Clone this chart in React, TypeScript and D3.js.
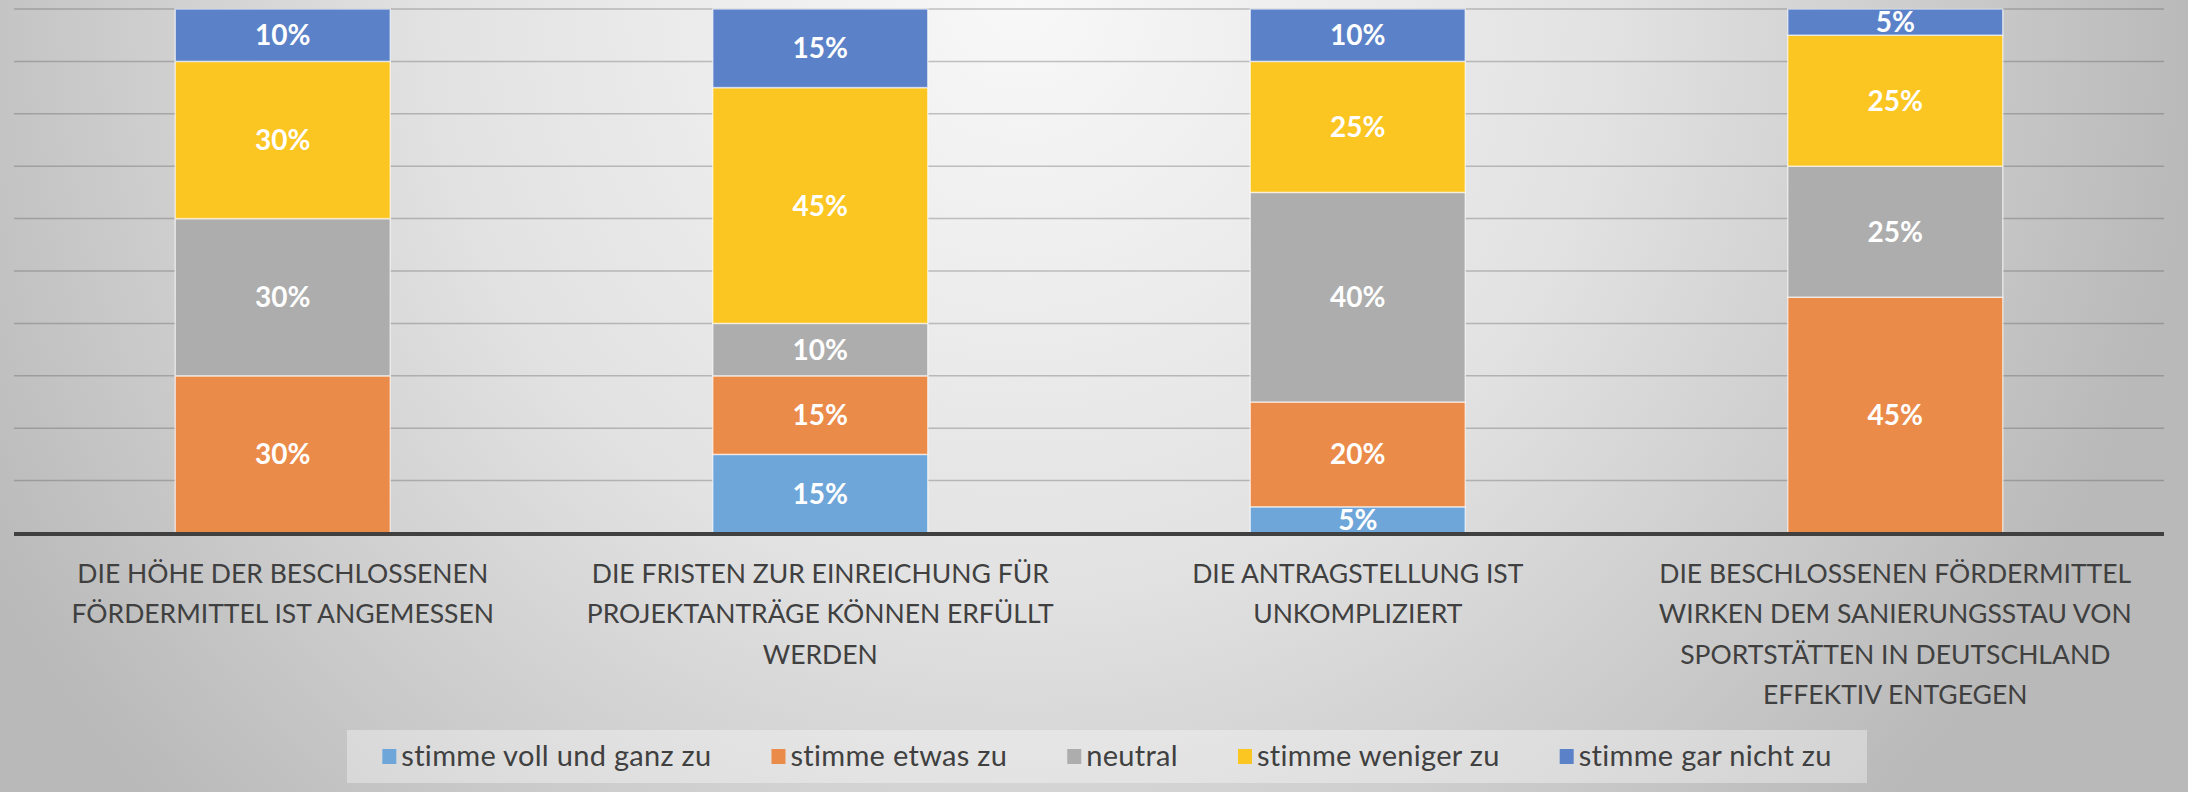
import { useEffect, useRef } from 'react';
import * as d3 from 'd3';

const categories: string[][] = [
  ['DIE HÖHE DER BESCHLOSSENEN', 'FÖRDERMITTEL IST ANGEMESSEN'],
  ['DIE FRISTEN ZUR EINREICHUNG FÜR', 'PROJEKTANTRÄGE KÖNNEN ERFÜLLT', 'WERDEN'],
  ['DIE ANTRAGSTELLUNG IST', 'UNKOMPLIZIERT'],
  ['DIE BESCHLOSSENEN FÖRDERMITTEL', 'WIRKEN DEM SANIERUNGSSTAU VON', 'SPORTSTÄTTEN IN DEUTSCHLAND', 'EFFEKTIV ENTGEGEN'],
];

const seriesNames = ['stimme voll und ganz zu', 'stimme etwas zu', 'neutral', 'stimme weniger zu', 'stimme gar nicht zu'];
const seriesColors = ['#6fa6d9', '#eb8b4a', '#adadad', '#fbc522', '#5b82c8'];

const vollUndGanz = [0, 15, 5, 0];
const etwas = [30, 15, 20, 45];
const neutral = [30, 10, 40, 25];
const weniger = [30, 45, 25, 25];
const garNicht = [10, 15, 10, 5];

const yTicks = [0, 10, 20, 30, 40, 50, 60, 70, 80, 90, 100];

const W = 2188;
const H = 792;
const FONT = 'Lato, "Open Sans", sans-serif';

export default function App() {
  const svgRef = useRef<SVGSVGElement>(null);

  useEffect(() => {
    document.body.style.margin = '0';
    if (!svgRef.current) return;
    const svg = d3.select(svgRef.current);
    svg.selectAll('*').remove();

    const left = 14, right = 2164, top = 9, bottom = 533;

    // background
    const defs = svg.append('defs');
    const grad = defs.append('radialGradient')
      .attr('id', 'bg')
      .attr('gradientUnits', 'userSpaceOnUse')
      .attr('cx', 1020).attr('cy', 0).attr('r', 1180);
    grad.append('stop').attr('offset', 0).attr('stop-color', '#f8f8f8');
    grad.append('stop').attr('offset', 0.5).attr('stop-color', '#e2e2e2');
    grad.append('stop').attr('offset', 1).attr('stop-color', '#b9b9b9');
    svg.append('rect').attr('width', W).attr('height', H).attr('fill', 'url(#bg)');

    const rows = categories.map((_, i) => ({
      idx: i,
      s0: vollUndGanz[i], s1: etwas[i], s2: neutral[i], s3: weniger[i], s4: garNicht[i],
    }));
    const keys = ['s0', 's1', 's2', 's3', 's4'];
    const stacked = d3.stack<any>().keys(keys)(rows);

    const x = d3.scaleBand<number>()
      .domain(rows.map(d => d.idx))
      .range([left, right])
      .paddingInner(0.6)
      .paddingOuter(0.3);

    const y = d3.scaleLinear().domain([0, 100]).range([bottom, top]);

    // gridlines
    svg.append('g')
      .selectAll('line')
      .data(yTicks.slice(1))
      .enter().append('line')
      .attr('x1', left).attr('x2', right)
      .attr('y1', d => y(d)).attr('y2', d => y(d))
      .attr('stroke', 'rgba(80,80,80,0.32)')
      .attr('stroke-width', 1.5);

    // bars
    const layer = svg.append('g')
      .selectAll('g')
      .data(stacked)
      .enter().append('g')
      .attr('fill', (_, i) => seriesColors[i]);

    layer.selectAll('rect')
      .data(d => d.filter(s => s[1] - s[0] > 0))
      .enter().append('rect')
      .attr('x', d => x(d.data.idx)!)
      .attr('width', x.bandwidth())
      .attr('y', d => y(d[1]))
      .attr('height', d => y(d[0]) - y(d[1]))
      .attr('stroke', 'rgba(255,255,255,0.6)')
      .attr('stroke-width', 1.5);

    layer.selectAll('text')
      .data(d => d.filter(s => s[1] - s[0] > 0))
      .enter().append('text')
      .attr('x', d => x(d.data.idx)! + x.bandwidth() / 2)
      .attr('y', d => (y(d[0]) + y(d[1])) / 2)
      .attr('dy', '0.36em')
      .attr('text-anchor', 'middle')
      .attr('fill', '#ffffff')
      .attr('font-family', FONT)
      .attr('font-weight', 700)
      .attr('font-size', 28)
      .text(d => `${d[1] - d[0]}%`);

    // baseline
    svg.append('line')
      .attr('x1', left).attr('x2', right)
      .attr('y1', y(0) + 1).attr('y2', y(0) + 1)
      .attr('stroke', '#404040')
      .attr('stroke-width', 4);

    // category labels
    const lineH = 40.5;
    svg.append('g')
      .selectAll('text')
      .data(rows)
      .enter().append('text')
      .attr('text-anchor', 'middle')
      .attr('fill', '#404040')
      .attr('font-family', FONT)
      .attr('font-size', 26.5)
      .each(function (d) {
        const t = d3.select(this);
        categories[d.idx].forEach((ln, j) => {
          t.append('tspan')
            .attr('x', x(d.idx)! + x.bandwidth() / 2)
            .attr('y', 573 + j * lineH)
            .attr('dy', '0.36em')
            .text(ln);
        });
      });

    // legend
    const legend = svg.append('g');
    legend.append('rect')
      .attr('x', 347).attr('y', 730)
      .attr('width', 1520).attr('height', 53)
      .attr('fill', 'rgba(255,255,255,0.35)');

    const items = legend.selectAll('g.item')
      .data(seriesNames)
      .enter().append('g')
      .attr('class', 'item');
    items.append('rect')
      .attr('width', 14).attr('height', 15)
      .attr('y', 749)
      .attr('fill', (_, i) => seriesColors[i]);
    items.append('text')
      .attr('x', 19)
      .attr('y', 756)
      .attr('dy', '0.36em')
      .attr('fill', '#404040')
      .attr('font-family', FONT)
      .attr('font-size', 29)
      .attr('letter-spacing', 0.3)
      .text(d => d);

    const widths: number[] = [];
    items.select('text').each(function () {
      widths.push((this as SVGTextElement).getComputedTextLength());
    });
    const gap = 60;
    const total = d3.sum(widths) + widths.length * 19 + gap * (widths.length - 1);
    let cx = 347 + (1520 - total) / 2;
    items.each(function (_, i) {
      d3.select(this).attr('transform', `translate(${cx},0)`)
        .select('rect').attr('x', 0);
      cx += 19 + widths[i] + gap;
    });
  }, []);

  return <svg ref={svgRef} width={W} height={H} viewBox={`0 0 ${W} ${H}`} style={{ display: 'block' }} />;
}
